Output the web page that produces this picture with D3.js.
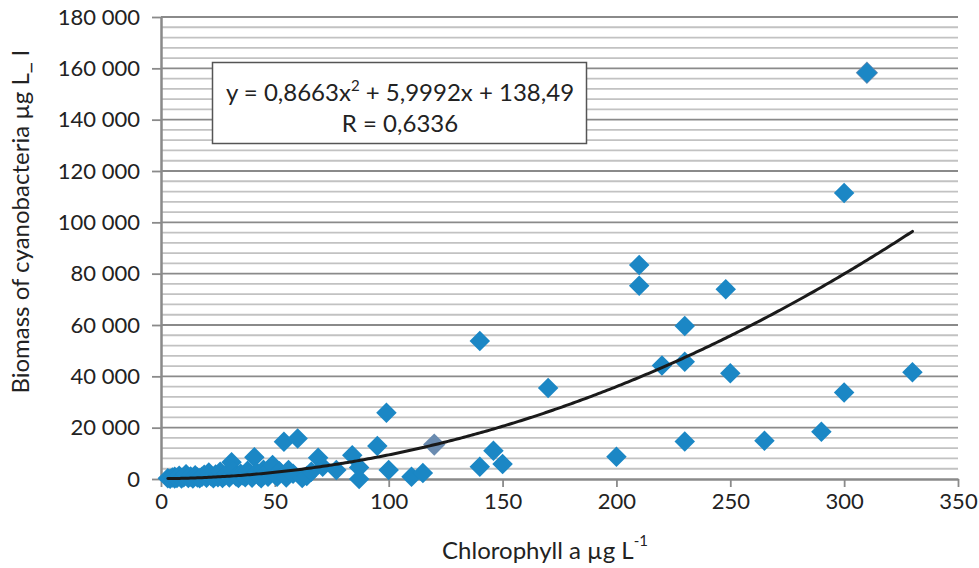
<!DOCTYPE html>
<html>
<head>
<meta charset="utf-8">
<script src="https://cdn.jsdelivr.net/npm/d3@7"></script>
<style>
  html, body { margin: 0; padding: 0; background: #fff; }
  svg { display: block; font-family: Lato, "Open Sans", sans-serif; }
</style>
</head>
<body>
<svg id="chart" width="979" height="568"></svg>
<script>
// ---- data ----
const chlorophyll = [3,4,5,6,6,7,8,9,10,11,12,13,14,15,16,17,18,19,20,21,22,23,24,25,26,27,28,29,30,31,32,33,34,35,36,37,38,39,40,41,42,43,44,45,46,47,48,49,50,51,52,54,55,56,58,60,62,64,66,69,71,77,84,87,87,95,99,100,110,115,140,140,146,150,170,200,210,210,220,230,230,230,248,250,265,290,300,300,310,330];
const biomass = [300,100,600,200,900,400,1300,200,700,1900,400,1000,200,1500,600,300,900,1700,500,2500,1100,300,1800,700,2800,400,1300,2200,600,6500,3000,1000,400,2000,1400,700,3200,1800,500,8500,2600,1200,300,3600,2200,900,4100,5500,1800,900,3000,14500,600,3500,2000,15800,400,1200,2800,8300,4800,3500,9300,4500,0,12900,25800,3500,900,2300,53800,4800,11000,5800,35500,8700,83400,75300,44200,59600,45700,14600,73900,41200,14900,18400,111400,33700,158300,41600];
// points drawn in the greyish-blue tone
const greyX = [120, 310];
const greyY = [13400, 158300];
// trendline y = a x^2 + b x + c
const trendCoef = [0.8663, 5.9992, 138.49];
const trendRange = [3, 330];
const xTicks = [0, 50, 100, 150, 200, 250, 300, 350];
const yTicks = [0, 20000, 40000, 60000, 80000, 100000, 120000, 140000, 160000, 180000];
const yMinorStep = 4000;
const eqLine1 = ["y = 0,8663x", "2", " + 5,9992x + 138,49"];
const eqLine2 = "R = 0,6336";
const xTitle = ["Chlorophyll a µg L", "-1"];
const yTitle = "Biomass of cyanobacteria µg L_ l";

// ---- layout ----
const svg = d3.select("#chart");
const pL = 161, pT = 17, pR = 958, pB = 479;
const x = d3.scaleLinear().domain([0, 350]).range([pL, pR]);
const y = d3.scaleLinear().domain([0, 180000]).range([pB, pT]);
const loc = d3.formatLocale({decimal: ",", thousands: " ", grouping: [3], currency: ["", ""]});
const fmt = loc.format(",d");

// minor gridlines
const minor = d3.range(0, 180000 + 1, yMinorStep).filter(v => v % 20000 !== 0);
svg.append("g").selectAll("line").data(minor).join("line")
  .attr("x1", pL).attr("x2", pR)
  .attr("y1", d => y(d)).attr("y2", d => y(d))
  .attr("stroke", "#c2c2c2").attr("stroke-width", 1.8);
// major gridlines
svg.append("g").selectAll("line").data(yTicks.filter(v => v > 0)).join("line")
  .attr("x1", pL).attr("x2", pR)
  .attr("y1", d => y(d)).attr("y2", d => y(d))
  .attr("stroke", "#8a8a8a").attr("stroke-width", 1.8);

// y axis
const yAxis = d3.axisLeft(y).tickValues(yTicks).tickFormat(fmt).tickSize(9).tickSizeOuter(0).tickPadding(12);
const gy = svg.append("g").attr("transform", `translate(${pL},0)`).call(yAxis);
gy.select(".domain").attr("stroke", "#8a8a8a").attr("stroke-width", 2.5);
gy.selectAll(".tick line").attr("stroke", "#8a8a8a").attr("stroke-width", 1.8);
gy.selectAll("text").attr("font-size", 22).attr("fill", "#222").attr("font-family", "Lato, sans-serif");

// x axis
const xAxis = d3.axisBottom(x).tickValues(xTicks).tickSize(8).tickSizeOuter(0).tickPadding(6);
const gx = svg.append("g").attr("transform", `translate(0,${pB})`).call(xAxis);
gx.select(".domain").attr("stroke", "#8a8a8a").attr("stroke-width", 2.5);
gx.selectAll(".tick line").attr("stroke", "#8a8a8a").attr("stroke-width", 1.8);
gx.selectAll("text").attr("font-size", 22).attr("fill", "#222").attr("font-family", "Lato, sans-serif");

// markers
const diamond = d3.symbol().type(d3.symbolSquare).size(210);
const greyDiamond = d3.symbol().type(d3.symbolSquare).size(250);
svg.append("g").selectAll("path").data(d3.zip(greyX, greyY)).join("path")
  .attr("d", greyDiamond)
  .attr("transform", d => `translate(${x(d[0])},${y(d[1])}) rotate(45)`)
  .attr("fill", "#6a8bb0");
svg.append("g").selectAll("path").data(d3.zip(chlorophyll, biomass)).join("path")
  .attr("d", diamond)
  .attr("transform", d => `translate(${x(d[0])},${y(d[1])}) rotate(45)`)
  .attr("fill", "#1b87c5");

// trendline
const tx = d3.range(trendRange[0], trendRange[1] + 0.001, 1);
const line = d3.line().x(d => x(d)).y(d => y(trendCoef[0] * d * d + trendCoef[1] * d + trendCoef[2]));
svg.append("path").datum(tx).attr("d", line)
  .attr("fill", "none").attr("stroke", "#1a1a1a").attr("stroke-width", 3).attr("stroke-linecap", "round");

// equation box
svg.append("rect").attr("x", 212.5).attr("y", 62.5).attr("width", 374).attr("height", 81)
  .attr("fill", "#fff").attr("stroke", "#555").attr("stroke-width", 1.5);
const t1 = svg.append("text").attr("x", 400).attr("y", 101).attr("text-anchor", "middle")
  .attr("font-size", 24).attr("fill", "#222");
t1.append("tspan").text(eqLine1[0]);
t1.append("tspan").attr("dy", -10).attr("font-size", 15).text(eqLine1[1]);
t1.append("tspan").attr("dy", 10).text(eqLine1[2]);
svg.append("text").attr("x", 400).attr("y", 132).attr("text-anchor", "middle")
  .attr("font-size", 24).attr("fill", "#222").text(eqLine2);

// axis titles
const xt = svg.append("text").attr("x", 545).attr("y", 559).attr("text-anchor", "middle")
  .attr("font-size", 24).attr("fill", "#222");
xt.append("tspan").text(xTitle[0]);
xt.append("tspan").attr("dy", -13).attr("font-size", 15).text(xTitle[1]);

svg.append("text").attr("transform", "translate(29,222) rotate(-90)").attr("text-anchor", "middle")
  .attr("font-size", 24).attr("fill", "#222").text(yTitle);
</script>
</body>
</html>
